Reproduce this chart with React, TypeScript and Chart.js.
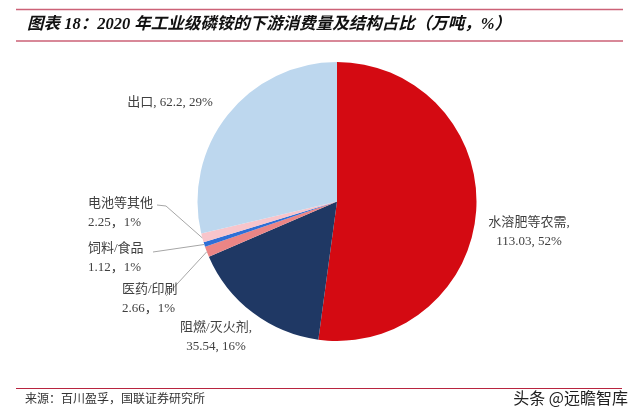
import React, { useEffect, useRef } from "react";
import { Chart, registerables } from "chart.js";

Chart.register(...registerables);

const categories = ["水溶肥等农需", "阻燃/灭火剂", "医药/印刷", "饲料/食品", "电池等其他", "出口"];
const values = [113.03, 35.54, 2.66, 1.12, 2.25, 62.2];
const valueLabels = ["113.03", "35.54", "2.66", "1.12", "2.25", "62.2"];
const percentLabels = ["52%", "16%", "1%", "1%", "1%", "29%"];
const colors = ["#D40A12", "#1F3864", "#EB8585", "#2F6FD6", "#F8C5CB", "#BDD7EE"];

const titleText = "图表 18：2020 年工业级磷铵的下游消费量及结构占比（万吨，%）";
const sourceText = "来源：百川盈孚，国联证券研究所";
const watermarkText = "头条 @远瞻智库";

// label layout: lines, alignment, x, line y positions, leader elbow points
const labelLayout = [
  { lines: (i: number) => [categories[i] + ",", valueLabels[i] + ", " + percentLabels[i]], align: "center", x: 529, ys: [223, 242], leader: null },
  { lines: (i: number) => [categories[i] + ",", valueLabels[i] + ", " + percentLabels[i]], align: "center", x: 216, ys: [328, 347], leader: null },
  { lines: (i: number) => [categories[i], valueLabels[i] + "，" + percentLabels[i]], align: "left", x: 122, ys: [290, 309], leader: [[166, 296]] },
  { lines: (i: number) => [categories[i], valueLabels[i] + "，" + percentLabels[i]], align: "left", x: 88, ys: [249, 268], leader: [[153, 252]] },
  { lines: (i: number) => [categories[i], valueLabels[i] + "，" + percentLabels[i]], align: "left", x: 88, ys: [204, 223], leader: [[166, 206], [157, 205]] },
  { lines: (i: number) => [categories[i] + ", " + valueLabels[i] + ", " + percentLabels[i]], align: "center", x: 170, ys: [103], leader: null },
];

const LABEL_FONT = "13px 'Liberation Serif', 'Noto Sans CJK SC', serif";

const decorPlugin = {
  id: "decor",
  afterDraw(chart: any) {
    const ctx = chart.ctx as CanvasRenderingContext2D;
    ctx.save();
    // title lines
    ctx.strokeStyle = "#CC6277";
    ctx.lineWidth = 1.5;
    ctx.beginPath();
    ctx.moveTo(16, 9.5);
    ctx.lineTo(623, 9.5);
    ctx.moveTo(16, 41);
    ctx.lineTo(623, 41);
    ctx.stroke();
    ctx.fillStyle = "#111";
    ctx.font = "italic bold 16.5px 'Liberation Serif', 'Noto Sans CJK SC', serif";
    ctx.textAlign = "left";
    ctx.textBaseline = "middle";
    ctx.fillText(titleText, 27, 25);

    // bottom
    ctx.strokeStyle = "#B8243F";
    ctx.lineWidth = 1;
    ctx.beginPath();
    ctx.moveTo(16, 388.5);
    ctx.lineTo(622, 388.5);
    ctx.stroke();
    ctx.fillStyle = "#333";
    ctx.font = "12px 'Liberation Serif', 'Noto Sans CJK SC', serif";
    ctx.fillText(sourceText, 25, 400);
    ctx.fillStyle = "#222";
    ctx.font = "16px 'Noto Sans CJK SC', sans-serif";
    ctx.textAlign = "right";
    ctx.fillText(watermarkText, 628, 398);

    // data labels
    const meta = chart.getDatasetMeta(0);
    meta.data.forEach((arc: any, i: number) => {
      const p = arc.getProps(["x", "y", "startAngle", "endAngle", "outerRadius"], true);
      const lay = labelLayout[i];
      if (lay.leader) {
        const mid = (p.startAngle + p.endAngle) / 2;
        const ex = p.x + Math.cos(mid) * p.outerRadius;
        const ey = p.y + Math.sin(mid) * p.outerRadius;
        ctx.strokeStyle = "#A6A6A6";
        ctx.lineWidth = 1;
        ctx.beginPath();
        ctx.moveTo(ex, ey);
        lay.leader.forEach((pt) => ctx.lineTo(pt[0], pt[1]));
        ctx.stroke();
      }
      ctx.fillStyle = "#404040";
      ctx.font = LABEL_FONT;
      ctx.textAlign = lay.align as CanvasTextAlign;
      ctx.textBaseline = "middle";
      lay.lines(i).forEach((t, k) => ctx.fillText(t, lay.x, lay.ys[k]));
    });
    ctx.restore();
  },
};

export default function App() {
  const ref = useRef<HTMLCanvasElement>(null);
  useEffect(() => {
    if (!ref.current) return;
    const chart = new Chart(ref.current, {
      type: "pie",
      data: {
        labels: categories,
        datasets: [
          {
            data: values,
            backgroundColor: colors,
            borderWidth: 0,
          },
        ],
      },
      options: {
        responsive: false,
        maintainAspectRatio: false,
        animation: false,
        layout: { padding: { left: 197, right: 163, top: 62, bottom: 77 } },
        plugins: {
          legend: { display: false },
          tooltip: { enabled: false },
          title: { display: false },
        },
      },
      plugins: [decorPlugin],
    });
    return () => chart.destroy();
  }, []);
  return (
    <div style={{ position: "fixed", left: 0, top: 0, width: 640, height: 418, background: "#fff" }}>
      <canvas ref={ref} width={640} height={418} style={{ width: 640, height: 418 }} />
    </div>
  );
}
